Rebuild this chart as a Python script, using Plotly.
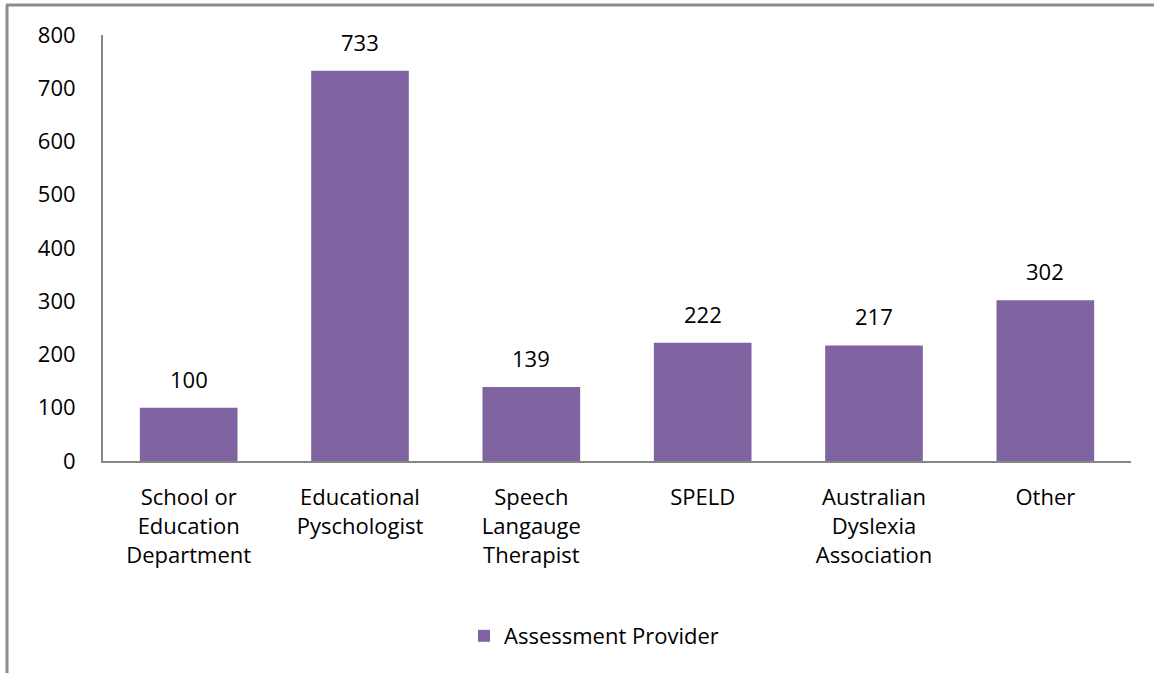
import plotly.graph_objects as go

categories = ["School or<br>Education<br>Department", "Educational<br>Pyschologist",
              "Speech<br>Langauge<br>Therapist", "SPELD",
              "Australian<br>Dyslexia<br>Association", "Other"]
values = [100, 733, 139, 222, 217, 302]
series_name = "Assessment Provider"
y_ticks = [0, 100, 200, 300, 400, 500, 600, 700, 800]

W, H = 1154, 673
L, R, T, B = 103, 1131, 35, 461

def px(x):
    return (x - L) / (R - L)

def py(y):
    return (B - y) / (B - T)

FONT = "Open Sans"
FS = 22
fig = go.Figure(go.Bar(
    x=categories, y=values, name=series_name,
    marker=dict(color="#8064A2", line=dict(width=0)),
    showlegend=True,
))

annotations = [
    dict(x=c, y=v, xref="x", yref="y", text=str(v), showarrow=False,
         yanchor="bottom", yshift=12, font=dict(family=FONT, size=FS, color="#000000"))
    for c, v in zip(categories, values)
]

fig.update_layout(
    width=W, height=H,
    margin=dict(l=L, r=W - R, t=T, b=H - B),
    paper_bgcolor="white", plot_bgcolor="white",
    bargap=0.43,
    font=dict(family=FONT, size=FS, color="#000000"),
    xaxis=dict(showline=True, linecolor="#868686", linewidth=2, ticks="",
               showgrid=False, tickfont=dict(family=FONT, size=FS), ticklabelstandoff=16),
    yaxis=dict(range=[0, 800], tickvals=y_ticks, showline=True, linecolor="#868686",
               linewidth=2, ticks="", showgrid=False, zeroline=False,
               tickfont=dict(family=FONT, size=FS), ticklabelstandoff=21),
    legend=dict(orientation="h", x=px(594), xanchor="center", y=py(636), yanchor="middle",
                font=dict(family=FONT, size=FS), itemwidth=30),
    annotations=annotations,
    shapes=[
        dict(type="line", xref="paper", yref="paper", x0=px(6), x1=px(1160), y0=py(5), y1=py(5),
             line=dict(color="#8c8c8c", width=3)),
        dict(type="line", xref="paper", yref="paper", x0=px(7), x1=px(7), y0=py(5), y1=py(680),
             line=dict(color="#8c8c8c", width=3)),
    ],
)

fig.write_html("out.html", config={"displayModeBar": False},
               post_script="document.body.style.margin='0';")
